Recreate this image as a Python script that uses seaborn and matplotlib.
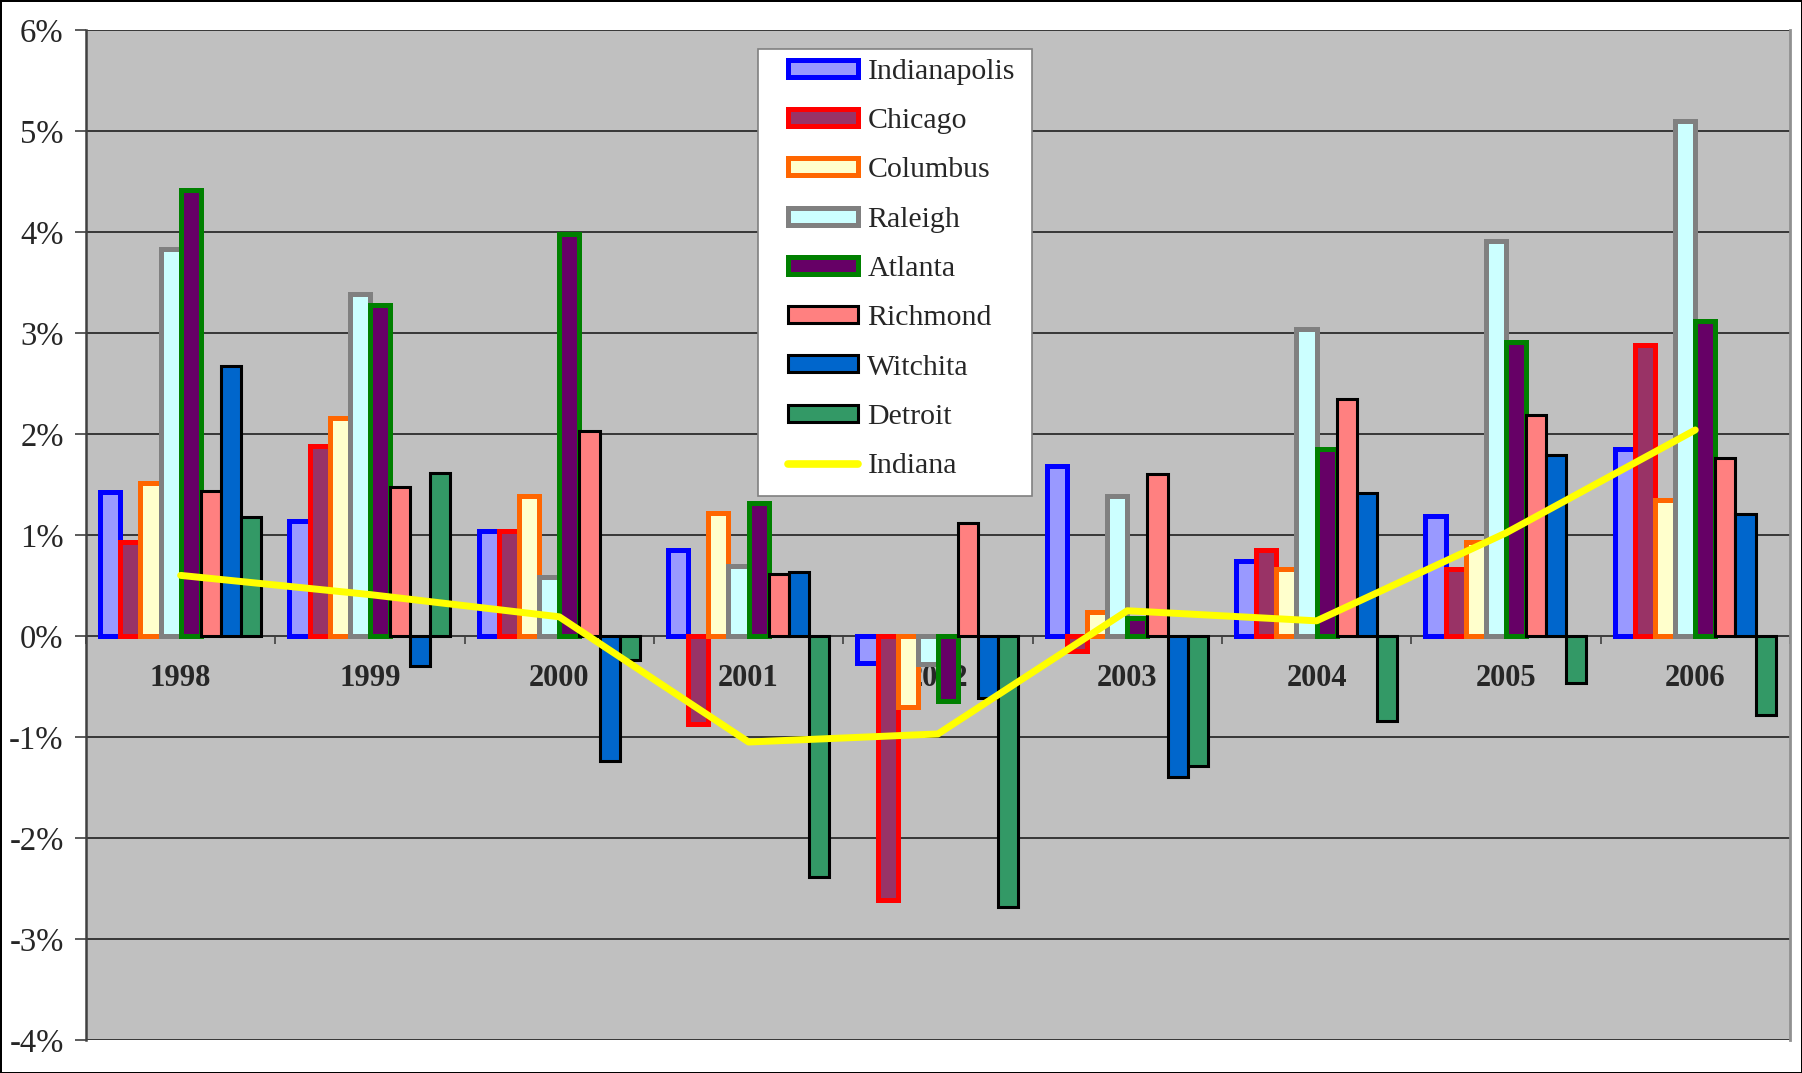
import numpy as np
import pandas as pd
import seaborn as sns
import matplotlib.pyplot as plt
from matplotlib.patches import Patch, Rectangle
from matplotlib.lines import Line2D
from matplotlib.ticker import FixedLocator, FuncFormatter

# ===== DATA (annual change, %) =====
years = ["1998", "1999", "2000", "2001", "2002", "2003", "2004", "2005", "2006"]
cities = ["Indianapolis", "Chicago", "Columbus", "Raleigh", "Atlanta",
          "Richmond", "Witchita", "Detroit"]

indianapolis = [1.43, 1.14, 1.04, 0.85, -0.27, 1.68, 0.74, 1.19, 1.85]
chicago = [0.93, 1.88, 1.04, -0.87, -2.61, -0.15, 0.85, 0.66, 2.88]
columbus = [1.51, 2.16, 1.39, 1.22, -0.70, 0.24, 0.66, 0.93, 1.35]
raleigh = [3.83, 3.39, 0.58, 0.69, -0.28, 1.39, 3.04, 3.91, 5.10]
atlanta = [4.42, 3.28, 3.98, 1.32, -0.64, 0.18, 1.85, 2.91, 3.12]
richmond = [1.44, 1.48, 2.03, 0.61, 1.12, 1.60, 2.35, 2.19, 1.76]
witchita = [2.67, -0.30, -1.24, 0.63, -0.61, -1.40, 1.42, 1.79, 1.21]
detroit = [1.18, 1.61, -0.24, -2.39, -2.68, -1.29, -0.84, -0.47, -0.78]
indiana = [0.60, 0.41, 0.19, -1.05, -0.97, 0.25, 0.15, 1.02, 2.04]

series = [indianapolis, chicago, columbus, raleigh, atlanta,
          richmond, witchita, detroit]

# Excel-style fills and outlines
faces = ["#9999FF", "#993366", "#FFFFCC", "#CCFFFF", "#660066",
         "#FF8080", "#0066CC", "#339966"]
edges = ["#0000FF", "#FF0000", "#FF6600", "#808080", "#008000",
         "black", "black", "black"]
widths = [3.6, 3.6, 3.6, 3.6, 3.6, 2.2, 2.2, 2.2]

df = pd.DataFrame({
    "Year": years * len(cities),
    "City": np.repeat(cities, len(years)),
    "Change": np.concatenate(series),
})
line_df = pd.DataFrame({"pos": np.arange(len(years)), "Indiana": indiana})

# ===== PLOT =====
sns.set_style("white")
plt.rcParams["font.family"] = ["Liberation Serif", "DejaVu Serif"]

fig = plt.figure(figsize=(18.02, 10.73), dpi=100)
fig.patch.set_edgecolor("black")
fig.patch.set_linewidth(2)
ax = fig.add_axes([0.0477, 0.0308, 0.9456, 0.9412])
ax.set_facecolor("#C0C0C0")

sns.barplot(data=df, x="Year", y="Change", hue="City", hue_order=cities,
            order=years, palette=faces, saturation=1, width=0.85,
            legend=False, ax=ax, zorder=3)
for cont, ec, lw in zip(ax.containers, edges, widths):
    for bar in cont:
        bar.set_edgecolor(ec)
        bar.set_linewidth(lw)

sns.lineplot(data=line_df, x="pos", y="Indiana", color="#FFFF00",
             linewidth=5, ax=ax, zorder=5, legend=False)

# axes
ax.set_xlim(-0.5, len(years) - 0.5)
ax.set_ylim(-4, 6)
ax.set_yticks(range(-4, 7))
ax.yaxis.set_major_formatter(FuncFormatter(lambda v, p: f"{v:.0f}%"))
ax.grid(axis="y", color="#202020", linewidth=1.2, zorder=0)
ax.set_axisbelow(True)
ax.tick_params(axis="y", direction="out", length=8, width=1.2,
               color="#404040", labelsize=23.5, pad=8, left=True)

ax.spines["bottom"].set_position(("data", 0))
ax.spines["bottom"].set_color("#404040")
ax.spines["bottom"].set_linewidth(1.3)
ax.spines["bottom"].set_zorder(2)
ax.spines["left"].set_color("#404040")
ax.spines["left"].set_linewidth(1.8)
ax.spines["right"].set_color("#909090")
ax.spines["right"].set_linewidth(2)
ax.spines["top"].set_visible(False)

# ticks at category boundaries, year labels at centers
ax.xaxis.set_major_locator(FixedLocator(np.arange(-0.5, len(years), 1.0)))
ax.xaxis.set_minor_locator(FixedLocator(np.arange(len(years))))
ax.set_xticklabels([""] * (len(years) + 1))
ax.set_xticklabels(years, minor=True, fontweight="bold", fontsize=22)
ax.tick_params(axis="x", which="major", direction="out", length=6,
               width=1.2, color="#404040", bottom=True)
ax.tick_params(axis="x", which="minor", length=0, pad=20)
ax.set_xlabel("")
ax.set_ylabel("")

# legend: white box drawn separately, entries placed inside it
box = Rectangle((758 / 1802, 1 - 496 / 1073), 274 / 1802, 447 / 1073,
                transform=fig.transFigure, facecolor="white",
                edgecolor="#808080", linewidth=1.2, zorder=9, clip_on=False)
ax.add_patch(box)

handles = [Patch(facecolor=f, edgecolor=e, linewidth=lw)
           for f, e, lw in zip(faces, edges, widths)]
handles.append(Line2D([], [], color="#FFFF00", linewidth=5.5))
leg = ax.legend(handles, cities + ["Indiana"],
                loc="center left", bbox_to_anchor=(788 / 1802, 1 - 269 / 1073),
                bbox_transform=fig.transFigure, fontsize=21.5,
                frameon=False, handlelength=2.33, handleheight=0.5,
                handletextpad=0.33, labelspacing=0.78, borderpad=0,
                borderaxespad=0)
leg.set_zorder(10)

fig.savefig("out.png", dpi=100, edgecolor=fig.get_edgecolor())
